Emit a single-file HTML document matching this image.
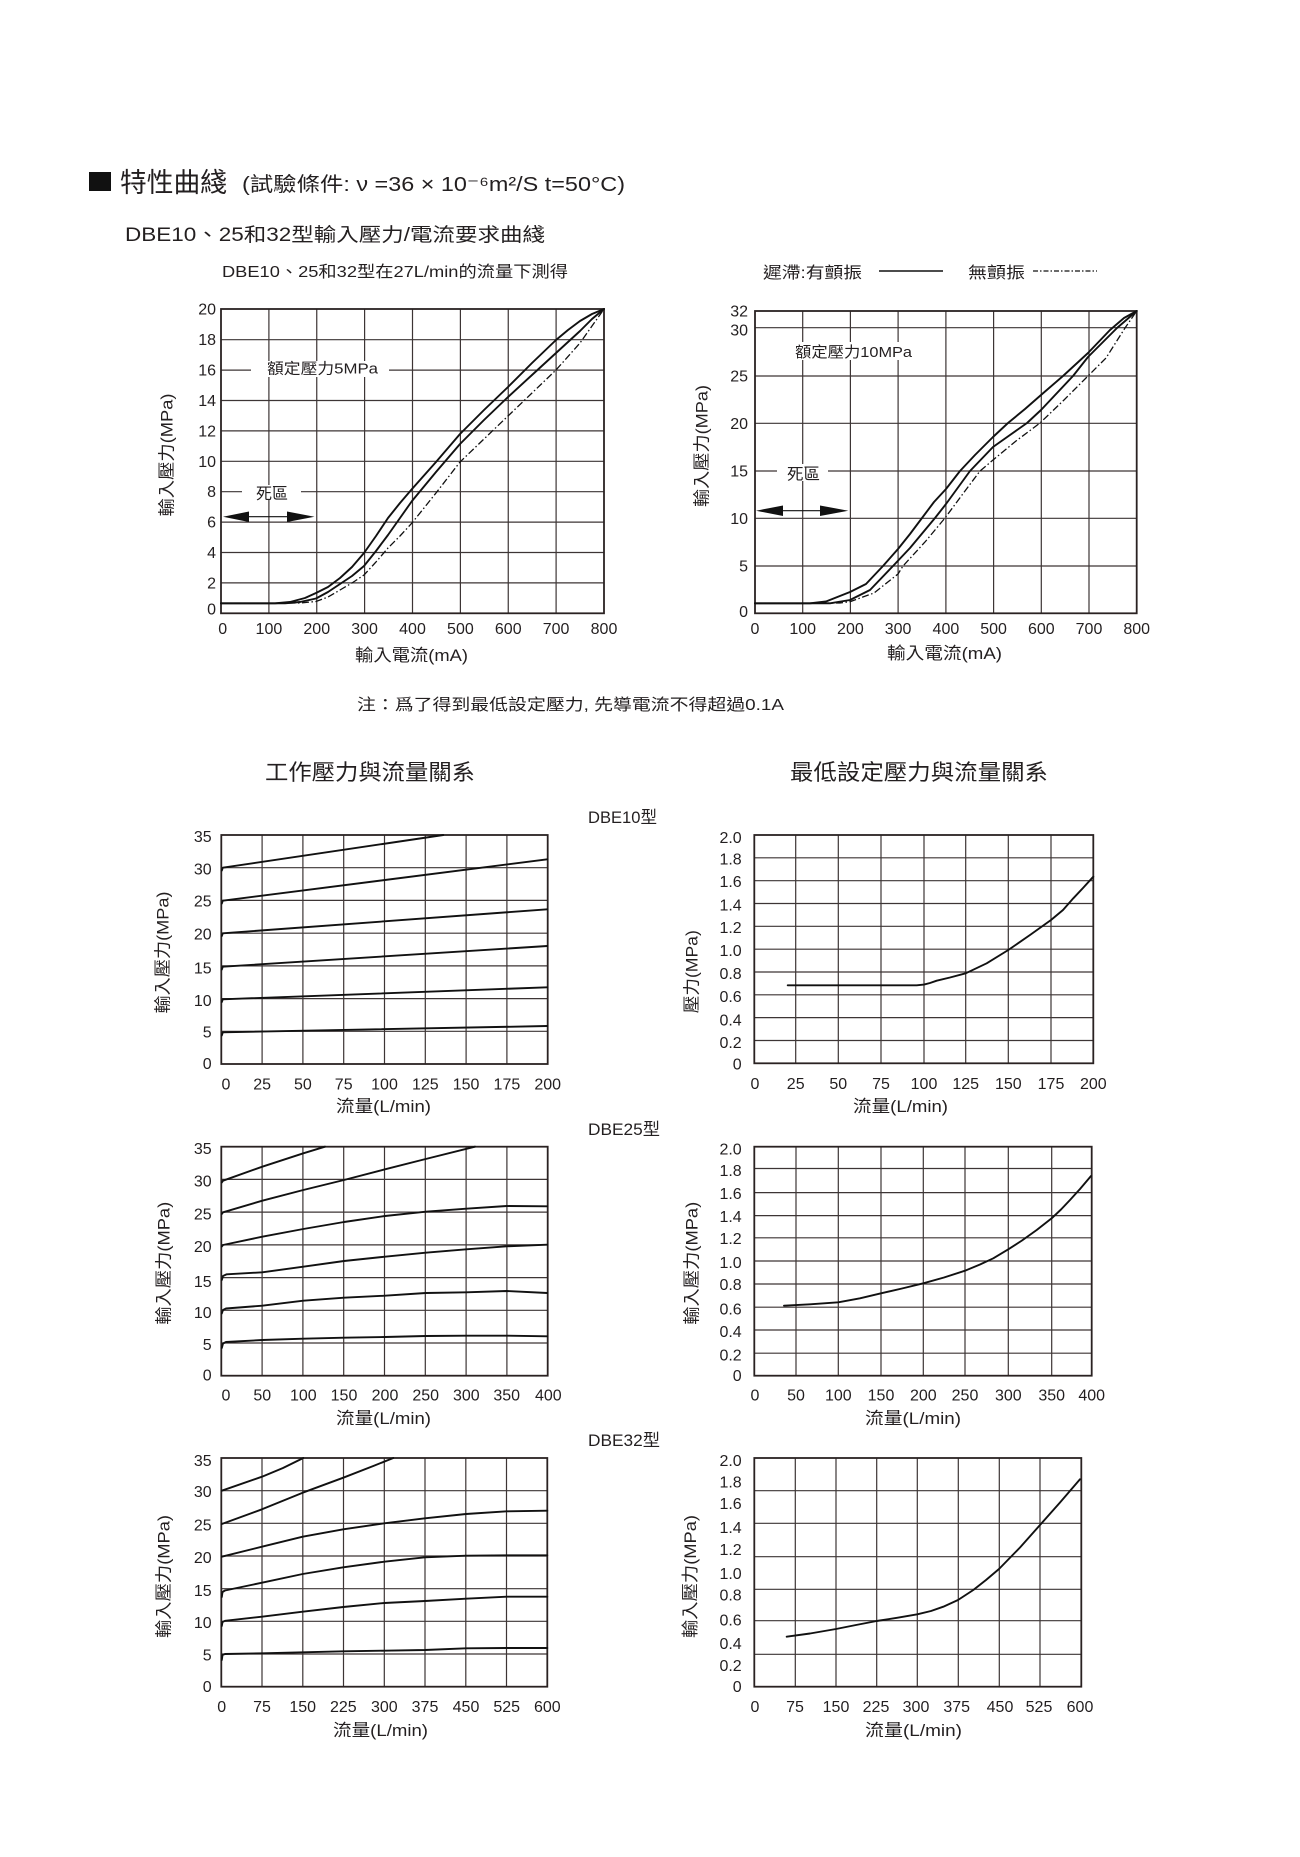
<!DOCTYPE html>
<html><head><meta charset="utf-8"><style>
html,body{margin:0;padding:0;background:#fff;}
svg{display:block;}
text{font-family:"Liberation Sans","Noto Sans CJK TC",sans-serif;fill:#231f20;}
.g{stroke:#3d3535;stroke-width:1.2;fill:none;}
.f{stroke:#2a2222;stroke-width:1.8;fill:none;}
.c{stroke:#111;stroke-width:1.9;fill:none;stroke-linejoin:round;stroke-linecap:round;}
.d{stroke:#111;stroke-width:1.3;fill:none;stroke-dasharray:7 2.5 1.5 2.5;}
.t{font-size:16px;}
.yl{font-size:16px;text-anchor:end;}
.xl{font-size:16px;text-anchor:middle;}
</style></head><body>
<svg width="1300" height="1857" viewBox="0 0 1300 1857" xmlns="http://www.w3.org/2000/svg">
<rect width="1300" height="1857" fill="#fff"/>

<!-- Header -->
<rect x="89" y="172" width="22" height="19" fill="#111"/>
<text x="120" y="192" font-size="27" textLength="107" lengthAdjust="spacingAndGlyphs">特性曲綫</text>
<text x="242" y="191" font-size="20" textLength="383" lengthAdjust="spacingAndGlyphs">(試驗條件: ν =36 × 10⁻⁶m²/S  t=50°C)</text>
<text x="125" y="241" font-size="19" textLength="420" lengthAdjust="spacingAndGlyphs">DBE10、25和32型輸入壓力/電流要求曲綫</text>
<text x="222" y="277" font-size="16" textLength="346" lengthAdjust="spacingAndGlyphs">DBE10、25和32型在27L/min的流量下測得</text>

<!-- Legend -->
<text x="763" y="278" font-size="16" textLength="99" lengthAdjust="spacingAndGlyphs">遲滯:有顫振</text>
<line x1="879" y1="271" x2="943" y2="271" stroke="#111" stroke-width="1.6"/>
<text x="968" y="278" font-size="16" textLength="57" lengthAdjust="spacingAndGlyphs">無顫振</text>
<line x1="1033" y1="271" x2="1097" y2="271" stroke="#111" stroke-width="1.3" stroke-dasharray="5 2 1.5 2"/>

<!-- ===== Chart A ===== -->
<path class="g" d="M268.9,309V613.3M316.75,309V613.3M364.6,309V613.3M412.5,309V613.3M460.4,309V613.3M508.25,309V613.3M556.1,309V613.3
M221,582.9H604M221,552.5H604M221,522.1H604M221,491.7H604M221,461.3H604M221,430.9H604M221,400.5H604M221,370.1H604M221,339.7H604"/>
<rect x="251" y="361" width="138" height="16" fill="#fff"/>
<text x="267" y="373.5" font-size="15" textLength="111" lengthAdjust="spacingAndGlyphs">額定壓力5MPa</text>
<rect x="242" y="485" width="59" height="15" fill="#fff"/>
<text x="256" y="499" font-size="16" textLength="32" lengthAdjust="spacingAndGlyphs">死區</text>
<line x1="249" y1="516.7" x2="287" y2="516.7" stroke="#111" stroke-width="1.2"/>
<polygon points="223,516.7 249,511.5 249,522" fill="#111"/>
<polygon points="314.5,516.7 287,511.5 287,522" fill="#111"/>
<rect class="f" x="221" y="309" width="383" height="304.3"/>
<path class="c" d="M221,603.3 L275,603.3 L290,602 L305,598 L316,593 L328,587 L340,578 L352,567 L364,553 L376,536 L388,518 L400,503 L412,489 L436,462 L460,434 L484,410 L508,387 L532,363 L556,340 L568,330 L580,321 L592,314 L604,309"/>
<path class="c" d="M221,603.3 L285,603.3 L300,602 L316,598.5 L328,592 L340,584 L352,576 L364,566 L376,551 L388,535 L400,518 L412,501 L436,472 L460,444 L484,420 L508,397 L532,375 L556,353 L580,331 L592,319 L604,309"/>
<path class="d" d="M221,603.3 L300,603 L316,601.5 L328,597 L340,590 L352,583 L364,575 L376,562 L388,548 L400,536 L412,523 L436,493 L460,462 L484,439 L508,416 L532,393 L556,370 L580,343 L592,326 L604,309"/>
<g class="yl">
<text x="216" y="614.5">0</text><text x="216" y="588.4">2</text><text x="216" y="558">4</text><text x="216" y="527.6">6</text><text x="216" y="497.2">8</text><text x="216" y="466.8">10</text><text x="216" y="436.4">12</text><text x="216" y="406">14</text><text x="216" y="375.6">16</text><text x="216" y="345.2">18</text><text x="216" y="314.5">20</text>
</g>
<g class="xl">
<text x="222.7" y="634">0</text><text x="268.9" y="634">100</text><text x="316.75" y="634">200</text><text x="364.6" y="634">300</text><text x="412.5" y="634">400</text><text x="460.4" y="634">500</text><text x="508.25" y="634">600</text><text x="556.1" y="634">700</text><text x="604" y="634">800</text>
</g>
<text x="355" y="661" font-size="17" textLength="113" lengthAdjust="spacingAndGlyphs">輸入電流(mA)</text>
<text transform="translate(166.7,455) rotate(-90)" x="0" y="6" font-size="17" text-anchor="middle" textLength="123" lengthAdjust="spacingAndGlyphs">輸入壓力(MPa)</text>

<!-- ===== Chart B ===== -->
<path class="g" d="M802.7,311V613.3M850.4,311V613.3M898.1,311V613.3M945.9,311V613.3M993.6,311V613.3M1041.3,311V613.3M1089,311V613.3
M755,566H1136.7M755,518.3H1136.7M755,471H1136.7M755,423.3H1136.7M755,376H1136.7M755,327.7H1136.7"/>
<rect x="790" y="342" width="125" height="18" fill="#fff"/>
<text x="795" y="357" font-size="15" textLength="117" lengthAdjust="spacingAndGlyphs">額定壓力10MPa</text>
<rect x="777" y="464" width="51" height="17" fill="#fff"/>
<text x="787" y="479.5" font-size="16" textLength="33" lengthAdjust="spacingAndGlyphs">死區</text>
<line x1="783" y1="510.7" x2="820" y2="510.7" stroke="#111" stroke-width="1.2"/>
<polygon points="756,510.7 783,505.5 783,516" fill="#111"/>
<polygon points="848.3,510.7 820,505.5 820,516" fill="#111"/>
<rect class="f" x="755" y="311" width="381.7" height="302.3"/>
<path class="c" d="M755,603.3 L810,603.3 L826,601.5 L850,592 L866,584 L883,566 L898,549 L910,534 L922,518 L934,502 L946,489 L960,471 L975,455 L993,437 L1008,423 L1025,409 L1041,395 L1063,376 L1088,353 L1110,330 L1124,318 L1136.7,311"/>
<path class="c" d="M755,603.3 L830,603.3 L850,600 L870,590 L893,566 L910,548 L935,518 L946,504 L970,471 L993,447 L1010,435 L1027,423 L1041,410 L1073,376 L1088,357 L1117,328 L1136.7,311"/>
<path class="d" d="M755,603.3 L840,603 L850,601.7 L874,593 L898,574 L903,566 L925,542 L945,518 L962,495 L980,471 L993,460 L1016,441 L1040,423 L1064,400 L1088,376 L1106,358 L1125,328 L1136.7,311"/>
<g class="yl">
<text x="748" y="617">0</text><text x="748" y="571.5">5</text><text x="748" y="523.8">10</text><text x="748" y="476.5">15</text><text x="748" y="428.8">20</text><text x="748" y="381.5">25</text><text x="748" y="335.5">30</text><text x="748" y="316.5">32</text>
</g>
<g class="xl">
<text x="755" y="634">0</text><text x="802.7" y="634">100</text><text x="850.4" y="634">200</text><text x="898.1" y="634">300</text><text x="945.9" y="634">400</text><text x="993.6" y="634">500</text><text x="1041.3" y="634">600</text><text x="1089" y="634">700</text><text x="1136.7" y="634">800</text>
</g>
<text x="887" y="659" font-size="17" textLength="115" lengthAdjust="spacingAndGlyphs">輸入電流(mA)</text>
<text transform="translate(701.5,446) rotate(-90)" x="0" y="6" font-size="17" text-anchor="middle" textLength="122" lengthAdjust="spacingAndGlyphs">輸入壓力(MPa)</text>

<!-- Note -->
<text x="357" y="710" font-size="16" textLength="427" lengthAdjust="spacingAndGlyphs">注：爲了得到最低設定壓力, 先導電流不得超過0.1A</text>

<!-- Section titles -->
<text x="265" y="780" font-size="22" textLength="210" lengthAdjust="spacingAndGlyphs">工作壓力與流量關系</text>
<text x="790" y="780" font-size="22" textLength="258" lengthAdjust="spacingAndGlyphs">最低設定壓力與流量關系</text>
<text x="588" y="823" font-size="17" textLength="69" lengthAdjust="spacingAndGlyphs">DBE10型</text>
<text x="588" y="1135" font-size="17" textLength="72" lengthAdjust="spacingAndGlyphs">DBE25型</text>
<text x="588" y="1446" font-size="17" textLength="72" lengthAdjust="spacingAndGlyphs">DBE32型</text>

<!-- ===== Chart C (DBE10 left) ===== -->
<path class="g" d="M262.1,835V1064M302.9,835V1064M343.7,835V1064M384.5,835V1064M425.3,835V1064M466.1,835V1064M506.9,835V1064
M221.3,1031.3H547.7M221.3,998.6H547.7M221.3,965.9H547.7M221.3,933.2H547.7M221.3,900.4H547.7M221.3,867.7H547.7"/>
<rect class="f" x="221.3" y="835" width="326.4" height="229"/>
<path class="c" d="M221.8,870.5 L222.8,867.7 L443.3,835"/>
<path class="c" d="M221.8,903.5 L222.8,900.7 L547.3,859.3"/>
<path class="c" d="M221.8,936 L222.8,933.3 L547.3,909.3"/>
<path class="c" d="M221.8,969.5 L222.8,966.7 L547.3,946"/>
<path class="c" d="M221.8,1002 L222.8,999.3 L547.3,987.3"/>
<path class="c" d="M221.8,1035.5 L222.8,1032.3 L547.3,1026"/>
<g class="yl">
<text x="211.7" y="842.2">35</text><text x="211.7" y="874.5">30</text><text x="211.7" y="906.7">25</text><text x="211.7" y="939.7">20</text><text x="211.7" y="973.5">15</text><text x="211.7" y="1006">10</text><text x="211.7" y="1037.5">5</text><text x="211.7" y="1068.8">0</text>
</g>
<g class="xl">
<text x="226" y="1089.5">0</text><text x="262.1" y="1089.5">25</text><text x="302.9" y="1089.5">50</text><text x="343.7" y="1089.5">75</text><text x="384.5" y="1089.5">100</text><text x="425.3" y="1089.5">125</text><text x="466.1" y="1089.5">150</text><text x="506.9" y="1089.5">175</text><text x="547.7" y="1089.5">200</text>
</g>
<text x="336" y="1112" font-size="17" textLength="95" lengthAdjust="spacingAndGlyphs">流量(L/min)</text>
<text transform="translate(162.3,952.5) rotate(-90)" x="0" y="6" font-size="17" text-anchor="middle" textLength="122" lengthAdjust="spacingAndGlyphs">輸入壓力(MPa)</text>

<!-- ===== Chart D (DBE10 right) ===== -->
<path class="g" d="M795.7,835V1063.3M838.3,835V1063.3M881,835V1063.3M924,835V1063.3M965.7,835V1063.3M1008.3,835V1063.3M1051,835V1063.3
M754.3,1040.5H1093.3M754.3,1017.6H1093.3M754.3,994.8H1093.3M754.3,972H1093.3M754.3,949.2H1093.3M754.3,926.3H1093.3M754.3,903.5H1093.3M754.3,880.7H1093.3M754.3,857.8H1093.3"/>
<rect class="f" x="754.3" y="835" width="339" height="228.3"/>
<path class="c" d="M787.7,985.3 L916.7,985.3 L924,984.6 L930,983 L936.7,980.7 L950,977.5 L965.7,973.3 L986.7,963.3 L1008.3,950 L1030,935 L1051,920 L1063,910 L1073.3,898.3 L1083,888 L1093.3,876.7"/>
<g class="yl">
<text x="741.7" y="842.8">2.0</text><text x="741.7" y="864.5">1.8</text><text x="741.7" y="887.2">1.6</text><text x="741.7" y="910.5">1.4</text><text x="741.7" y="932.8">1.2</text><text x="741.7" y="956.2">1.0</text><text x="741.7" y="978.8">0.8</text><text x="741.7" y="1002.2">0.6</text><text x="741.7" y="1025.5">0.4</text><text x="741.7" y="1048.2">0.2</text><text x="741.7" y="1069.5">0</text>
</g>
<g class="xl">
<text x="755" y="1089">0</text><text x="795.7" y="1089">25</text><text x="838.3" y="1089">50</text><text x="881" y="1089">75</text><text x="924" y="1089">100</text><text x="965.7" y="1089">125</text><text x="1008.3" y="1089">150</text><text x="1051" y="1089">175</text><text x="1093.3" y="1089">200</text>
</g>
<text x="853" y="1112" font-size="17" textLength="95" lengthAdjust="spacingAndGlyphs">流量(L/min)</text>
<text transform="translate(691.5,971.7) rotate(-90)" x="0" y="6" font-size="17" text-anchor="middle" textLength="83" lengthAdjust="spacingAndGlyphs">壓力(MPa)</text>

<!-- ===== Chart E (DBE25 left) ===== -->
<path class="g" d="M262.1,1146.7V1375.7M302.9,1146.7V1375.7M343.7,1146.7V1375.7M384.5,1146.7V1375.7M425.3,1146.7V1375.7M466.1,1146.7V1375.7M506.9,1146.7V1375.7
M221.3,1343H547.7M221.3,1310.3H547.7M221.3,1277.6H547.7M221.3,1244.9H547.7M221.3,1212.1H547.7M221.3,1179.4H547.7"/>
<rect class="f" x="221.3" y="1146.7" width="326.4" height="229"/>
<path class="c" d="M221.8,1182.5 L223,1180.7 L262.3,1166.7 L303.3,1153.3 L325,1146.7"/>
<path class="c" d="M221.8,1214 L223,1212.3 L262.3,1200.7 L303.3,1190 L344,1180 L385,1169.3 L425.7,1159 L475,1146.7"/>
<path class="c" d="M221.8,1246.5 L223,1245 L262.3,1236.7 L303.3,1229 L344,1222 L385,1216 L425.7,1211.7 L466.3,1208.7 L506.7,1206 L547.3,1206.3"/>
<path class="c" d="M221.8,1280 L223,1276 L226.7,1274.3 L262.3,1272.3 L303.3,1266.7 L344,1261 L385,1256.7 L425.7,1252.7 L466.3,1249.3 L506.7,1246.3 L547.3,1244.7"/>
<path class="c" d="M221.8,1313.5 L223,1310 L226,1308.5 L262.3,1305.7 L303.3,1300.7 L344,1297.7 L385,1295.7 L425.7,1293 L466.3,1292.3 L506.7,1291 L547.3,1293"/>
<path class="c" d="M221.8,1348 L223,1343.5 L226,1342 L262.3,1340 L303.3,1338.7 L344,1337.7 L385,1337 L425.7,1336 L466.3,1335.7 L506.7,1335.7 L547.3,1336.3"/>
<g class="yl">
<text x="211.7" y="1153.8">35</text><text x="211.7" y="1186.5">30</text><text x="211.7" y="1219.5">25</text><text x="211.7" y="1252.2">20</text><text x="211.7" y="1287.2">15</text><text x="211.7" y="1317.8">10</text><text x="211.7" y="1349.8">5</text><text x="211.7" y="1380.5">0</text>
</g>
<g class="xl">
<text x="226" y="1400.5">0</text><text x="262.3" y="1400.5">50</text><text x="303.3" y="1400.5">100</text><text x="344" y="1400.5">150</text><text x="385" y="1400.5">200</text><text x="425.7" y="1400.5">250</text><text x="466.3" y="1400.5">300</text><text x="506.7" y="1400.5">350</text><text x="548.3" y="1400.5">400</text>
</g>
<text x="336" y="1424" font-size="17" textLength="95" lengthAdjust="spacingAndGlyphs">流量(L/min)</text>
<text transform="translate(163.3,1263.3) rotate(-90)" x="0" y="6" font-size="17" text-anchor="middle" textLength="123" lengthAdjust="spacingAndGlyphs">輸入壓力(MPa)</text>

<!-- ===== Chart F (DBE25 right) ===== -->
<path class="g" d="M796,1146.7V1375.7M838.3,1146.7V1375.7M881,1146.7V1375.7M923.3,1146.7V1375.7M965,1146.7V1375.7M1008.3,1146.7V1375.7M1051.7,1146.7V1375.7
M754.3,1353.2H1091.7M754.3,1330H1091.7M754.3,1307.2H1091.7M754.3,1284H1091.7M754.3,1261H1091.7M754.3,1237.8H1091.7M754.3,1215.6H1091.7M754.3,1192.6H1091.7M754.3,1168.5H1091.7"/>
<rect class="f" x="754.3" y="1146.7" width="337.4" height="229"/>
<path class="c" d="M784,1305.7 L810,1304.3 L838.3,1302.3 L860,1298.3 L881,1293.3 L902,1288.5 L923.3,1283.3 L944,1277.5 L965,1270.7 L980,1264.5 L993.3,1258.3 L1008.3,1249.3 L1022,1240.5 L1036.7,1230 L1051.7,1218.3 L1061,1209.5 L1070,1200 L1080,1189 L1091,1176"/>
<g class="yl">
<text x="741.7" y="1154.5">2.0</text><text x="741.7" y="1176.2">1.8</text><text x="741.7" y="1198.8">1.6</text><text x="741.7" y="1222.2">1.4</text><text x="741.7" y="1243.8">1.2</text><text x="741.7" y="1267.8">1.0</text><text x="741.7" y="1289.8">0.8</text><text x="741.7" y="1314.5">0.6</text><text x="741.7" y="1337.2">0.4</text><text x="741.7" y="1360.5">0.2</text><text x="741.7" y="1381.2">0</text>
</g>
<g class="xl">
<text x="755" y="1400.5">0</text><text x="796" y="1400.5">50</text><text x="838.3" y="1400.5">100</text><text x="881" y="1400.5">150</text><text x="923.3" y="1400.5">200</text><text x="965" y="1400.5">250</text><text x="1008.3" y="1400.5">300</text><text x="1051.7" y="1400.5">350</text><text x="1091.7" y="1400.5">400</text>
</g>
<text x="865" y="1424" font-size="17" textLength="96" lengthAdjust="spacingAndGlyphs">流量(L/min)</text>
<text transform="translate(691.5,1263.3) rotate(-90)" x="0" y="6" font-size="17" text-anchor="middle" textLength="123" lengthAdjust="spacingAndGlyphs">輸入壓力(MPa)</text>

<!-- ===== Chart G (DBE32 left) ===== -->
<path class="g" d="M262,1458V1686.7M302.8,1458V1686.7M343.5,1458V1686.7M384.3,1458V1686.7M425,1458V1686.7M465.8,1458V1686.7M506.5,1458V1686.7
M221.3,1654H547.3M221.3,1621.3H547.3M221.3,1588.7H547.3M221.3,1556H547.3M221.3,1523.3H547.3M221.3,1490.7H547.3"/>
<rect class="f" x="221.3" y="1458" width="326" height="228.7"/>
<path class="c" d="M221.8,1490.7 L262,1476.7 L283,1468 L303.3,1458"/>
<path class="c" d="M221.8,1524 L262,1509.3 L302.7,1492.7 L343.3,1477.7 L373.3,1466 L393.3,1458"/>
<path class="c" d="M221.8,1556.7 L262,1546.7 L302.7,1536.7 L343.3,1529.3 L384.3,1523.3 L425,1518.3 L466,1514 L506.7,1511.3 L547.3,1510.7"/>
<path class="c" d="M221.8,1597 L222.5,1592 L225,1590.5 L262,1582.7 L302.7,1574 L343.3,1567.3 L384.3,1561.7 L425,1557.3 L466,1555.7 L506.7,1555.3 L547.3,1555.3"/>
<path class="c" d="M221.8,1626 L222.5,1622 L225,1620.8 L262,1616.7 L302.7,1611.7 L343.3,1607 L384.3,1603 L425,1601 L466,1598.7 L506.7,1596.7 L547.3,1596.7"/>
<path class="c" d="M221.8,1660 L222.5,1655 L225,1654 L262,1653.3 L302.7,1652.3 L343.3,1651.3 L384.3,1650.7 L425,1650 L466,1648.3 L506.7,1648 L547.3,1648"/>
<g class="yl">
<text x="211.7" y="1466.2">35</text><text x="211.7" y="1497.2">30</text><text x="211.7" y="1530.5">25</text><text x="211.7" y="1562.8">20</text><text x="211.7" y="1596.2">15</text><text x="211.7" y="1627.8">10</text><text x="211.7" y="1660.5">5</text><text x="211.7" y="1692.2">0</text>
</g>
<g class="xl">
<text x="221.7" y="1712">0</text><text x="262" y="1712">75</text><text x="302.7" y="1712">150</text><text x="343.3" y="1712">225</text><text x="384.3" y="1712">300</text><text x="425" y="1712">375</text><text x="466" y="1712">450</text><text x="506.7" y="1712">525</text><text x="547.3" y="1712">600</text>
</g>
<text x="333" y="1736" font-size="17" textLength="95" lengthAdjust="spacingAndGlyphs">流量(L/min)</text>
<text transform="translate(163.3,1576.5) rotate(-90)" x="0" y="6" font-size="17" text-anchor="middle" textLength="123" lengthAdjust="spacingAndGlyphs">輸入壓力(MPa)</text>

<!-- ===== Chart H (DBE32 right) ===== -->
<path class="g" d="M795.3,1458V1686.7M836,1458V1686.7M876.7,1458V1686.7M917.3,1458V1686.7M958.3,1458V1686.7M999.3,1458V1686.7M1040,1458V1686.7
M754.3,1490.7H1081.3M754.3,1523.3H1081.3M754.3,1556.7H1081.3M754.3,1589.3H1081.3M754.3,1620.7H1081.3M754.3,1654.3H1081.3"/>
<rect class="f" x="754.3" y="1458" width="327" height="228.7"/>
<path class="c" d="M786.7,1636.7 L810,1633.5 L836,1629 L856,1625 L876.7,1621 L897,1617.8 L917.3,1614.3 L931,1611 L943.3,1606.7 L958,1600 L973.3,1590 L986,1580 L999,1569 L1020,1547.5 L1040,1525 L1060,1502.5 L1080,1479.3"/>
<g class="yl">
<text x="741.7" y="1466.2">2.0</text><text x="741.7" y="1487.5">1.8</text><text x="741.7" y="1508.8">1.6</text><text x="741.7" y="1532.8">1.4</text><text x="741.7" y="1554.8">1.2</text><text x="741.7" y="1578.8">1.0</text><text x="741.7" y="1600.5">0.8</text><text x="741.7" y="1625.5">0.6</text><text x="741.7" y="1648.8">0.4</text><text x="741.7" y="1671.2">0.2</text><text x="741.7" y="1692.2">0</text>
</g>
<g class="xl">
<text x="755" y="1712">0</text><text x="795" y="1712">75</text><text x="836" y="1712">150</text><text x="876" y="1712">225</text><text x="916" y="1712">300</text><text x="956.7" y="1712">375</text><text x="1000" y="1712">450</text><text x="1039" y="1712">525</text><text x="1080" y="1712">600</text>
</g>
<text x="865" y="1736" font-size="17" textLength="97" lengthAdjust="spacingAndGlyphs">流量(L/min)</text>
<text transform="translate(690,1576.5) rotate(-90)" x="0" y="6" font-size="17" text-anchor="middle" textLength="123" lengthAdjust="spacingAndGlyphs">輸入壓力(MPa)</text>

</svg>
</body></html>
